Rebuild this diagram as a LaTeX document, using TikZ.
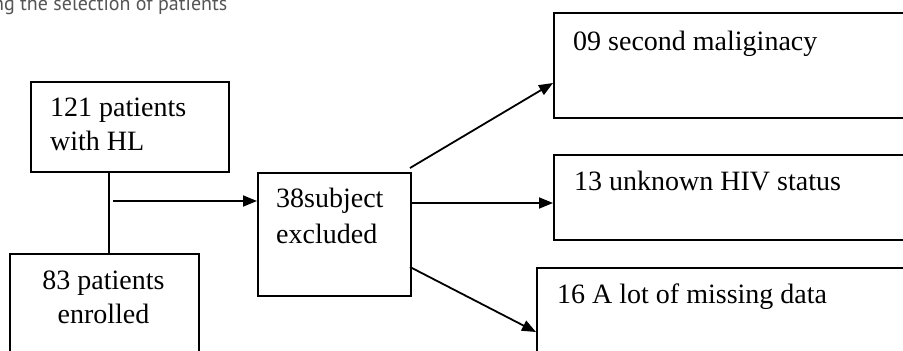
\documentclass[tikz,border=0pt]{standalone}
\usepackage{fontspec}
\setmainfont{Liberation Serif}
\newfontfamily\captionfont{PT Sans}
\usetikzlibrary{arrows.meta,calc}
\definecolor{captiongray}{HTML}{555555}
\tikzset{
  box/.style={draw, line width=1.8pt, rectangle, inner sep=0pt, anchor=north west},
  lbl/.style={anchor=base west, inner sep=0pt, font=\fontsize{28}{33}\selectfont},
  arr/.style={line width=1.8pt, -{Triangle[length=14pt,width=11pt]}},
  ln/.style={line width=1.8pt}
}
\begin{document}
\begin{tikzpicture}[x=1pt,y=-1pt]
\useasboundingbox (0,0) rectangle (903,351);
\clip (0,0) rectangle (903,351);
% caption (cut at top)
\node[anchor=base west, inner sep=0pt, text=captiongray, font=\captionfont\fontsize{20}{24}\selectfont] (cap) at (-7,10.5) {ng the selection of patients};
% boxes
\node[box, minimum width=198pt, minimum height=90pt] (b121) at (30,81) {};
\node[box, minimum width=189pt, minimum height=110pt] (b83) at (9,253) {};
\node[box, minimum width=153pt, minimum height=123pt] (b38) at (257,172) {};
\node[box, minimum width=370pt, minimum height=105pt] (b09) at (553,12) {};
\node[box, minimum width=370pt, minimum height=85pt] (b13) at (553,154) {};
\node[box, minimum width=390pt, minimum height=100pt] (b16) at (536,267) {};
% texts
\node[lbl] (t121a) at (50,116) {121 patients};
\node[lbl] (t121b) at (50,150) {with HL};
\node[lbl, anchor=base] (t83a) at (103.5,289) {83 patients};
\node[lbl, anchor=base] (t83b) at (103.5,323) {enrolled};
\node[lbl] (t38a) at (276,207) {38subject};
\node[lbl] (t38b) at (276,243) {excluded};
\node[lbl] (t09) at (573,50) {09 second maliginacy};
\node[lbl] (t13) at (574,190) {13 unknown HIV status};
\node[lbl] (t16) at (557,303) {16 A lot of missing data};
% connectors
\coordinate (v1) at (109,171);
\coordinate (v2) at (109,253);
\draw[ln] (v1) -- (v2);
\coordinate (h1) at (113,201);
\draw[arr] (h1) -- (h1 -| b38.west);
\coordinate (s1) at (410,168);
\coordinate (e1) at (553,83);
\draw[arr] (s1) -- (e1);
\coordinate (s2) at (410,203);
\draw[arr] (s2) -- (s2 -| b13.west);
\coordinate (s3) at (410,267);
\coordinate (e3) at (536,332);
\draw[arr] (s3) -- (e3);
\end{tikzpicture}
\end{document}
